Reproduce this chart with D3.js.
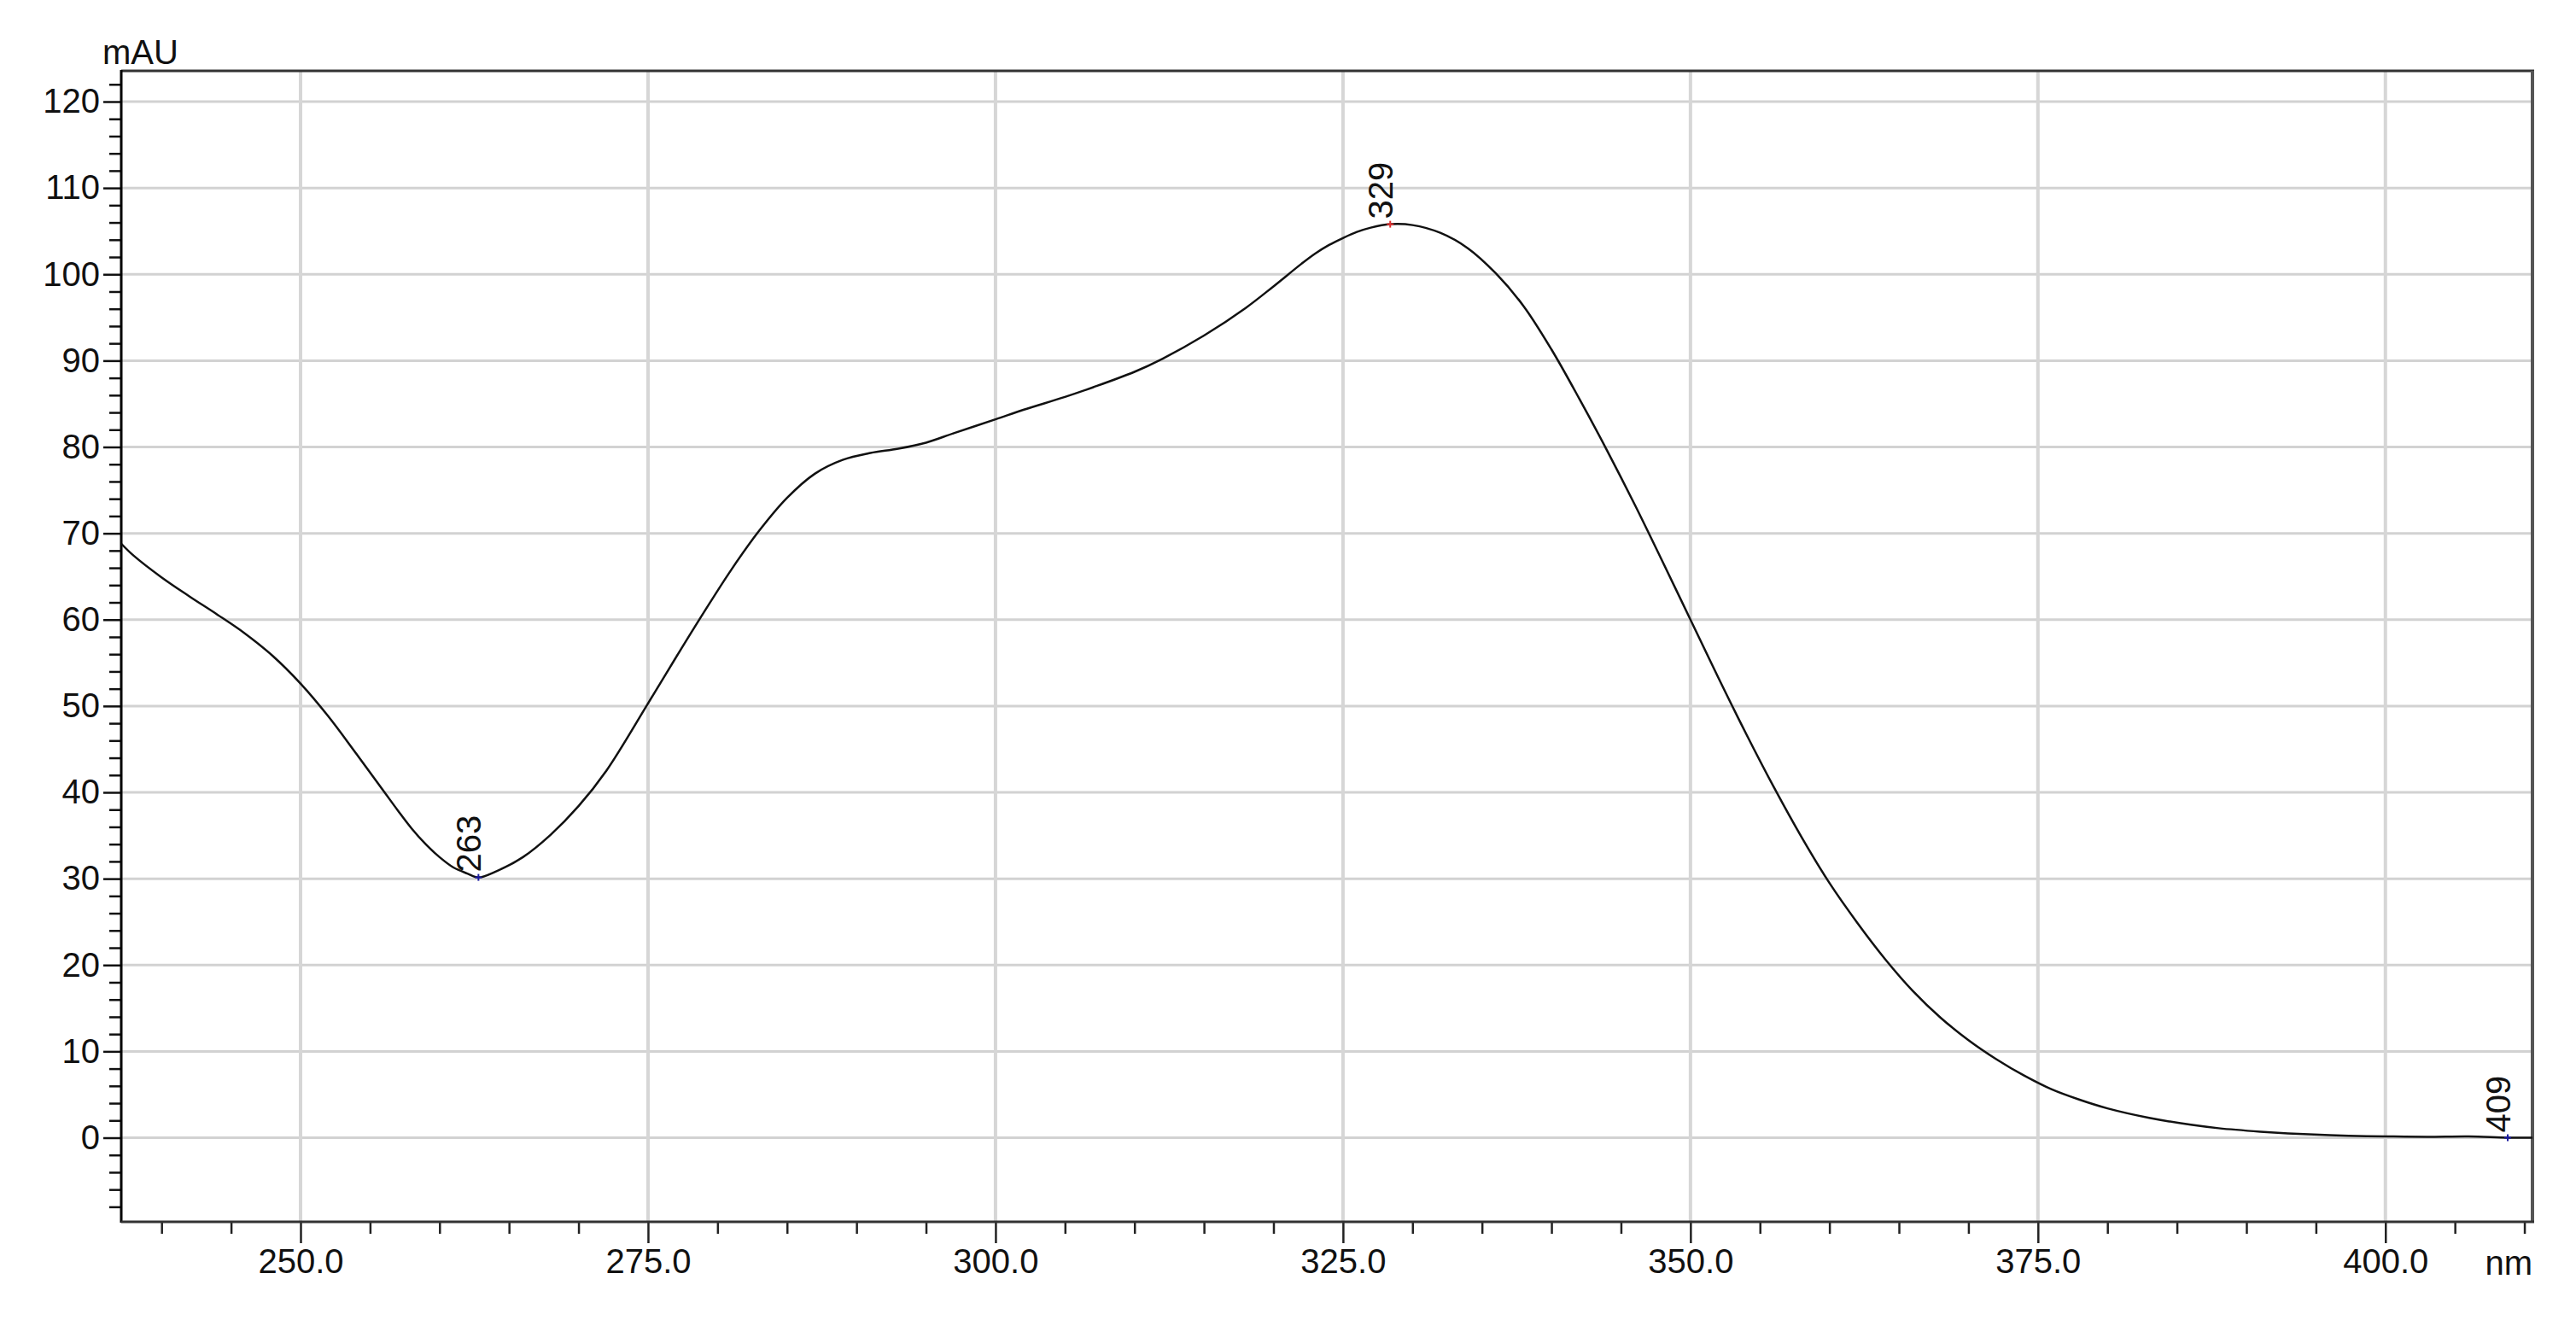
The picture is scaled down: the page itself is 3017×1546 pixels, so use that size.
<!DOCTYPE html>
<html>
<head>
<meta charset="utf-8">
<script src="https://cdn.jsdelivr.net/npm/d3@7"></script>
<style>
  html, body { margin: 0; padding: 0; background: #ffffff; }
  svg { display: block; }
  text { font-family: "Liberation Sans", Arial, "DejaVu Sans", sans-serif; }
</style>
</head>
<body>
<script>
// ---- data ----
const wavelengths = [237.1, 238, 240, 242, 244, 246, 248, 250, 252, 254, 256, 257, 258, 259, 260, 261, 262, 262.8, 264, 266, 268, 270, 272, 275, 277, 279, 281, 283, 285, 287, 289, 291, 293, 295, 297, 300, 302, 305, 307, 310, 312, 315, 318, 320, 322, 323, 324, 325, 326, 327, 328.4, 330, 332, 334, 336, 338, 340, 342, 344, 346, 348, 350, 352, 354, 356, 358, 360, 362, 364, 366, 368, 370, 372, 374, 376, 378, 380, 383, 386, 388, 391, 393, 396, 398, 400, 403, 406, 408.8, 410.6];
const absorbance = [68.8, 67.4, 64.9, 62.7, 60.6, 58.4, 55.8, 52.6, 48.8, 44.5, 40.1, 37.9, 35.8, 34.0, 32.5, 31.3, 30.6, 30.15, 30.8, 32.5, 35.1, 38.4, 42.5, 50.3, 55.6, 60.8, 65.8, 70.3, 74.1, 76.9, 78.5, 79.3, 79.8, 80.5, 81.6, 83.2, 84.3, 85.8, 86.9, 88.7, 90.2, 92.9, 96.1, 98.6, 101.2, 102.4, 103.4, 104.2, 104.9, 105.4, 105.8, 105.7, 104.8, 103.0, 100.1, 96.3, 91.3, 85.6, 79.6, 73.3, 66.7, 60.0, 53.3, 46.8, 40.6, 34.8, 29.5, 24.9, 20.7, 17.0, 13.9, 11.3, 9.1, 7.2, 5.6, 4.4, 3.4, 2.3, 1.5, 1.1, 0.7, 0.5, 0.3, 0.2, 0.15, 0.1, 0.15, 0.0, 0.0];

const peakLabels = ["263", "329", "409"];
const peakX = [262.8, 328.4, 408.8];
const peakY = [30.15, 105.8, 0.0];
const peakColors = ["#1a1aa0", "#e03030", "#1a1aa0"];

const xTickValues = [250, 275, 300, 325, 350, 375, 400];
const yTickValues = [0, 10, 20, 30, 40, 50, 60, 70, 80, 90, 100, 110, 120];
const xUnit = "nm";
const yUnit = "mAU";

// ---- layout ----
const W = 3017, H = 1546;
const L = 142, R = 2966, T = 83, B = 1431;

const svg = d3.select("body").append("svg").attr("width", W).attr("height", H);
svg.append("rect").attr("width", W).attr("height", H).attr("fill", "#ffffff");

const x = d3.scaleLinear().domain([237.1, 410.58]).range([L, R]);
const y = d3.scaleLinear().domain([-9.74, 123.56]).range([B, T]);

// grid
const grid = svg.append("g");
grid.selectAll("line.h").data(yTickValues).join("line")
  .attr("x1", L).attr("x2", R).attr("y1", d => y(d)).attr("y2", d => y(d))
  .attr("stroke", "#d2d2d2").attr("stroke-width", 3);
grid.selectAll("line.v").data(xTickValues).join("line")
  .attr("y1", T).attr("y2", B).attr("x1", d => x(d)).attr("x2", d => x(d))
  .attr("stroke", "#d6d6d6").attr("stroke-width", 4);

// frame top/right
svg.append("line").attr("x1", L).attr("x2", R + 2).attr("y1", T).attr("y2", T)
  .attr("stroke", "#333").attr("stroke-width", 3);
svg.append("line").attr("x1", R).attr("x2", R).attr("y1", T).attr("y2", B)
  .attr("stroke", "#555").attr("stroke-width", 4);

// y axis minor
const yMinor = d3.range(-8, 123, 2).filter(v => v % 10 !== 0);
svg.append("g").attr("transform", `translate(${L},0)`)
  .call(d3.axisLeft(y).tickValues(yMinor).tickSize(14).tickSizeOuter(0).tickFormat(""))
  .call(g => g.select(".domain").remove())
  .call(g => g.selectAll("line").attr("stroke", "#111").attr("stroke-width", 2.5));
// y axis major
svg.append("g").attr("transform", `translate(${L},0)`)
  .call(d3.axisLeft(y).tickValues(yTickValues).tickSize(21).tickSizeOuter(0).tickPadding(4).tickFormat(d3.format("d")))
  .call(g => g.select(".domain").remove())
  .call(g => g.selectAll("line").attr("stroke", "#111").attr("stroke-width", 2.5))
  .call(g => g.selectAll("text").attr("font-size", 40).attr("fill", "#111")
    .attr("font-family", "'Liberation Sans', Arial, sans-serif"));

// x axis minor
const xMinor = d3.range(240, 411, 5).filter(v => !xTickValues.includes(v));
svg.append("g").attr("transform", `translate(0,${B})`)
  .call(d3.axisBottom(x).tickValues(xMinor).tickSize(14).tickSizeOuter(0).tickFormat(""))
  .call(g => g.select(".domain").remove())
  .call(g => g.selectAll("line").attr("stroke", "#222").attr("stroke-width", 2.5));
// x axis major
svg.append("g").attr("transform", `translate(0,${B})`)
  .call(d3.axisBottom(x).tickValues(xTickValues).tickSize(25).tickSizeOuter(0).tickPadding(7).tickFormat(d3.format(".1f")))
  .call(g => g.select(".domain").remove())
  .call(g => g.selectAll("line").attr("stroke", "#222").attr("stroke-width", 2.5))
  .call(g => g.selectAll("text").attr("font-size", 40).attr("fill", "#111")
    .attr("font-family", "'Liberation Sans', Arial, sans-serif"));

// axis lines
svg.append("line").attr("x1", L).attr("x2", L).attr("y1", T - 1).attr("y2", B + 1)
  .attr("stroke", "#000").attr("stroke-width", 3);
svg.append("line").attr("x1", L).attr("x2", R + 2).attr("y1", B).attr("y2", B)
  .attr("stroke", "#333").attr("stroke-width", 3);

// unit labels
svg.append("text").attr("x", 120).attr("y", 75).attr("font-size", 40).attr("fill", "#111").text(yUnit);
svg.append("text").attr("x", R).attr("y", 1493).attr("text-anchor", "end")
  .attr("font-size", 40).attr("fill", "#111").text(xUnit);

// curve
const pts = wavelengths.map((w, i) => [w, absorbance[i]]);
const clipId = "plotclip";
svg.append("clipPath").attr("id", clipId).append("rect")
  .attr("x", L).attr("y", T).attr("width", R - L).attr("height", B - T);
svg.append("path").datum(pts)
  .attr("clip-path", `url(#${clipId})`)
  .attr("fill", "none").attr("stroke", "#111").attr("stroke-width", 2.5)
  .attr("stroke-linejoin", "round")
  .attr("d", d3.line().x(d => x(d[0])).y(d => y(d[1])).curve(d3.curveCatmullRom.alpha(0.5)));

// peak markers and labels
const peaks = peakLabels.map((t, i) => ({ t, px: peakX[i], py: peakY[i], c: peakColors[i] }));
const pg = svg.append("g");
peaks.forEach(p => {
  const cx = x(p.px), cy = y(p.py);
  pg.append("line").attr("x1", cx - 4).attr("x2", cx + 4).attr("y1", cy).attr("y2", cy)
    .attr("stroke", p.c).attr("stroke-width", 2);
  pg.append("line").attr("x1", cx).attr("x2", cx).attr("y1", cy - 4).attr("y2", cy + 4)
    .attr("stroke", p.c).attr("stroke-width", 2);
  pg.append("text")
    .attr("transform", `translate(${cx + 3},${cy - 6}) rotate(-90)`)
    .attr("font-size", 40).attr("fill", "#111").attr("text-anchor", "start")
    .text(p.t);
});
</script>
</body>
</html>
